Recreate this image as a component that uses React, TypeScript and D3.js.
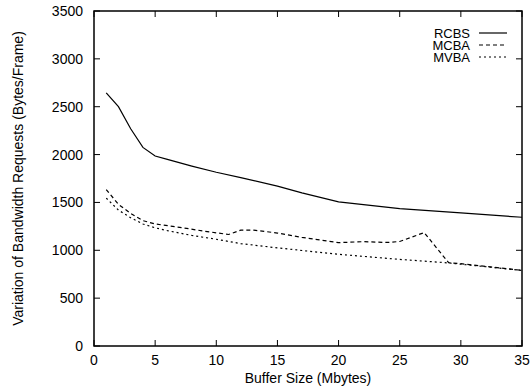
import { useRef, useEffect } from "react";
import * as d3 from "d3";

const rcbsX = [1, 2, 3, 4, 5, 6, 8, 10, 12, 15, 17, 20, 25, 30, 35];
const rcbsY = [2645, 2500, 2270, 2075, 1985, 1950, 1880, 1815, 1760, 1670, 1600, 1505, 1435, 1390, 1345];

const mcbaX = [1, 2, 3, 4, 5, 7, 9, 11, 12, 13, 15, 17, 20, 22, 24, 25, 27, 29, 30, 35];
const mcbaY = [1635, 1480, 1385, 1310, 1275, 1240, 1200, 1165, 1210, 1212, 1180, 1135, 1080, 1090, 1082, 1092, 1185, 870, 860, 790];

const mvbaX = [1, 2, 3, 4, 5, 6, 8, 10, 12, 15, 20, 25, 29, 35];
const mvbaY = [1545, 1420, 1340, 1275, 1235, 1205, 1155, 1115, 1070, 1025, 958, 905, 868, 790];

const xTicks = [0, 5, 10, 15, 20, 25, 30, 35];
const yTicks = [0, 500, 1000, 1500, 2000, 2500, 3000, 3500];

const series = [
  { name: "RCBS", xs: rcbsX, ys: rcbsY, dash: "none" },
  { name: "MCBA", xs: mcbaX, ys: mcbaY, dash: "4,3" },
  { name: "MVBA", xs: mvbaX, ys: mvbaY, dash: "2,3" },
];

export default function App() {
  const svgRef = useRef<SVGSVGElement>(null);

  useEffect(() => {
    if (!svgRef.current) return;
    const svg = d3.select(svgRef.current);
    svg.selectAll("*").remove();

    const left = 94;
    const right = 522;
    const top = 11;
    const bottom = 346;
    const font = "'Liberation Sans', Arial, sans-serif";

    const x = d3.scaleLinear().domain([0, 35]).range([left, right]);
    const y = d3.scaleLinear().domain([0, 3500]).range([bottom, top]);

    const g = svg.append("g");

    // ticks, mirrored on all four sides
    xTicks.forEach((t) => {
      g.append("line").attr("x1", x(t)).attr("x2", x(t)).attr("y1", bottom).attr("y2", bottom - 6).attr("stroke", "#000");
      g.append("line").attr("x1", x(t)).attr("x2", x(t)).attr("y1", top).attr("y2", top + 6).attr("stroke", "#000");
      g.append("text")
        .attr("x", x(t))
        .attr("y", bottom + 19)
        .attr("text-anchor", "middle")
        .style("font-family", font)
        .style("font-size", "14px")
        .text(t);
    });
    yTicks.forEach((t) => {
      g.append("line").attr("x1", left).attr("x2", left + 6).attr("y1", y(t)).attr("y2", y(t)).attr("stroke", "#000");
      g.append("line").attr("x1", right).attr("x2", right - 6).attr("y1", y(t)).attr("y2", y(t)).attr("stroke", "#000");
      g.append("text")
        .attr("x", left - 11)
        .attr("y", y(t) + 5)
        .attr("text-anchor", "end")
        .style("font-family", font)
        .style("font-size", "14px")
        .text(t);
    });

    g.append("rect")
      .attr("x", left)
      .attr("y", top)
      .attr("width", right - left)
      .attr("height", bottom - top)
      .attr("fill", "none")
      .attr("stroke", "#000")
      .attr("stroke-width", 1.5);

    // axis labels
    g.append("text")
      .attr("x", (left + right) / 2)
      .attr("y", 383)
      .attr("text-anchor", "middle")
      .style("font-family", font)
      .style("font-size", "14px")
      .text("Buffer Size (Mbytes)");

    g.append("text")
      .attr("transform", `translate(23,${(top + bottom) / 2}) rotate(-90)`)
      .attr("text-anchor", "middle")
      .style("font-family", font)
      .style("font-size", "14px")
      .text("Variation of Bandwidth Requests (Bytes/Frame)");

    const line = d3
      .line<[number, number]>()
      .x((d) => x(d[0]))
      .y((d) => y(d[1]));

    series.forEach((s, i) => {
      const pts = s.xs.map((v, j) => [v, s.ys[j]] as [number, number]);
      g.append("path")
        .datum(pts)
        .attr("fill", "none")
        .attr("stroke", "#000")
        .attr("stroke-width", 1.2)
        .attr("stroke-dasharray", s.dash)
        .attr("d", line);

      // legend
      const ly = 33 + i * 12;
      g.append("text")
        .attr("x", 470)
        .attr("y", ly + 4.5)
        .attr("text-anchor", "end")
        .style("font-family", font)
        .style("font-size", "13px")
        .text(s.name);
      g.append("line")
        .attr("x1", 479)
        .attr("x2", 507)
        .attr("y1", ly)
        .attr("y2", ly)
        .attr("stroke", "#000")
        .attr("stroke-width", 1.2)
        .attr("stroke-dasharray", s.dash);
    });
  }, []);

  return (
    <svg
      ref={svgRef}
      width={530}
      height={387}
      style={{ position: "absolute", left: 0, top: 0, background: "#fff" }}
    />
  );
}
